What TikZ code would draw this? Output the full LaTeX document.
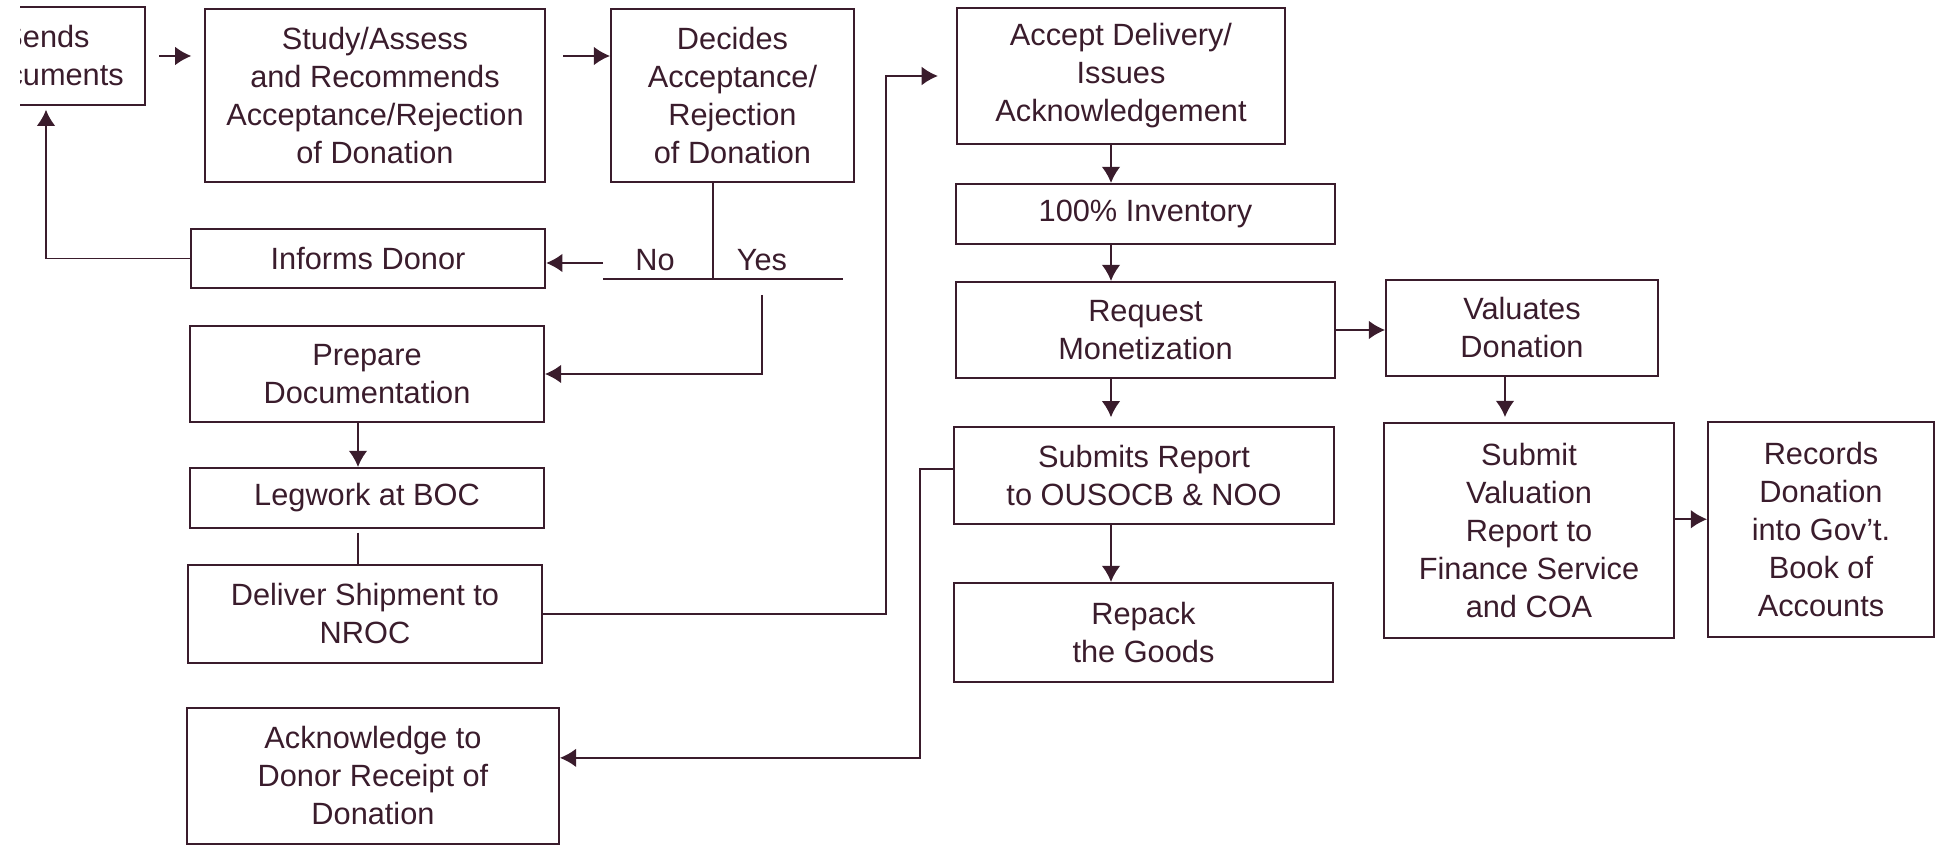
\documentclass[tikz,border=0pt]{standalone}
\usepackage{fontspec}
\setmainfont{Liberation Sans}
\usetikzlibrary{arrows.meta}
\definecolor{ink}{RGB}{58,28,44}
\begin{document}
\begin{tikzpicture}[x=0.016cm,y=-0.016cm,
  box/.style={draw=ink,line width=0.9pt,text=ink,align=center,inner sep=0pt,font=\fontsize{14}{17.3}\selectfont},
  lbl/.style={text=ink,inner sep=0pt,font=\fontsize{14}{17.3}\selectfont},
  ln/.style={draw=ink,line width=0.9pt},
  arr/.style={ln,-{Latex[length=0.26cm,width=0.3cm]}}]
\useasboundingbox (0,0) rectangle (1941,847);
\clip (20,0) rectangle (1941,847);
\node (b1) at (46,56) [box,minimum width=3.168cm,minimum height=1.568cm] {Sends\\Documents};
\node (b2) at (375,95.5) [box,minimum width=5.448cm,minimum height=2.768cm] {Study/Assess\\and Recommends\\Acceptance/Rejection\\of Donation};
\node (b3) at (732.5,95.5) [box,minimum width=3.888cm,minimum height=2.768cm] {Decides\\Acceptance/\\Rejection\\of Donation};
\node (b4) at (368,258.5) [box,minimum width=5.672cm,minimum height=0.944cm] {Informs Donor};
\node (b5) at (367,374) [box,minimum width=5.664cm,minimum height=1.536cm] {Prepare\\Documentation};
\node (b6) at (367,498) [box,minimum width=5.664cm,minimum height=0.96cm] {Legwork at BOC};
\node (b7) at (365,614) [box,minimum width=5.656cm,minimum height=1.568cm] {Deliver Shipment to\\NROC};
\node (b8) at (373,776) [box,minimum width=5.952cm,minimum height=2.168cm] {Acknowledge to\\Donor Receipt of\\Donation};
\node (b9) at (1121,76) [box,minimum width=5.248cm,minimum height=2.176cm] {Accept Delivery/\\Issues\\Acknowledgement};
\node (b10) at (1145.5,214) [box,minimum width=6.064cm,minimum height=0.96cm] {100\% Inventory};
\node (b11) at (1145.5,330) [box,minimum width=6.064cm,minimum height=1.536cm] {Request\\Monetization};
\node (b12) at (1144,475.5) [box,minimum width=6.08cm,minimum height=1.552cm] {Submits Report\\to OUSOCB \& NOO};
\node (b13) at (1143.5,632.5) [box,minimum width=6.064cm,minimum height=1.584cm] {Repack\\the Goods};
\node (b14) at (1522,328) [box,minimum width=4.352cm,minimum height=1.536cm] {Valuates\\Donation};
\node (b15) at (1529,530.5) [box,minimum width=4.64cm,minimum height=3.44cm] {Submit\\Valuation\\Report to\\Finance Service\\and COA};
\node (b16) at (1821,529.5) [box,minimum width=3.616cm,minimum height=3.44cm] {Records\\Donation\\into Gov’t.\\Book of\\Accounts};
\node (l1) at (655,260) [lbl] {No};
\node (l2) at (762,260) [lbl] {Yes};
\coordinate (c1) at (713,279);
\coordinate (c2) at (603,279);
\coordinate (c3) at (843,279);
\coordinate (c4) at (603,263);
\coordinate (c5) at (762,295);
\coordinate (c6) at (886,0);
\coordinate (c7) at (920,0);
\coordinate (c8) at (1111,0);
\coordinate (c9) at (1505,0);
\coordinate (c10) at (358,0);
\draw[arr,shorten <=0.21cm,shorten >=0.2cm] (b1.east) -- (b1.east -| b2.west);
\draw[arr,shorten <=0.27cm] (b1.east -| b2.east) -- (b1.east -| b3.west);
\draw[ln] (b3.south -| c1) -- (c1);
\draw[ln] (c2) -- (c3);
\draw[arr] (c4) -- (c4 -| b4.east);
\draw[arr,shorten >=0.06cm] (b4.west) -| (b1.south);
\draw[arr] (c5) |- (b5.east);
\draw[arr] (b5.south -| c10) -- (b6.north -| c10);
\draw[ln,shorten <=0.06cm] (b6.south -| c10) -- (b7.north -| c10);
\draw[arr,shorten >=0.29cm] (b7.east) -- (b7.east -| c6) |- (b9.west);
\draw[arr] (b9.south -| c8) -- (b10.north -| c8);
\draw[arr] (b10.south -| c8) -- (b11.north -| c8);
\draw[arr,shorten >=0.14cm] (b11.south -| c8) -- (b12.north -| c8);
\draw[arr] (b12.south -| c8) -- (b13.north -| c8);
\draw[arr] (b11.east) -- (b11.east -| b14.west);
\draw[arr,shorten >=0.08cm] (b14.south -| c9) -- (b15.north -| c9);
\draw[arr] ([yshift=0.18cm]b15.east) -- ([yshift=0.18cm]b15.east -| b16.west);
\draw[arr] ([yshift=0.1cm]b12.west) -- ([yshift=0.1cm]b12.west -| c7) |- ([yshift=0.29cm]b8.east);
\end{tikzpicture}
\end{document}
